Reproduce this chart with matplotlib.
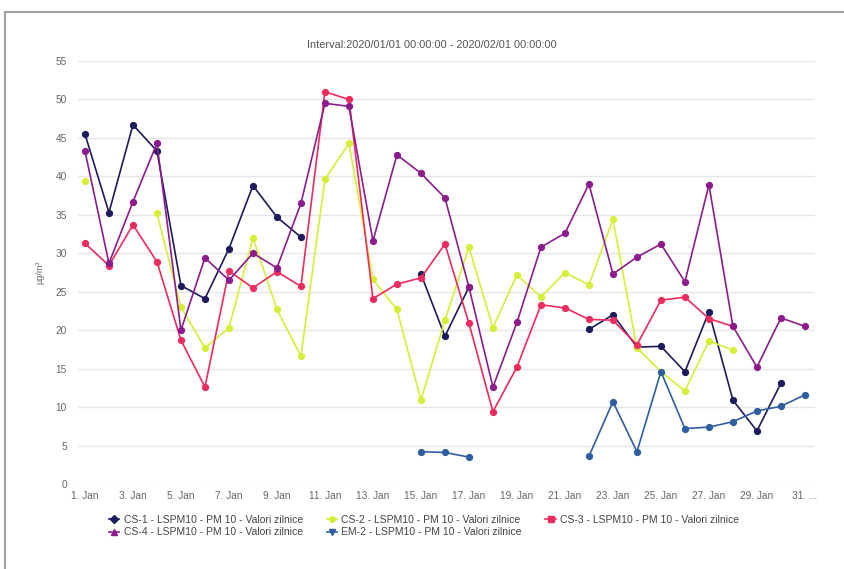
import numpy as np
import matplotlib
matplotlib.use('Agg')
import matplotlib.pyplot as plt
from matplotlib.lines import Line2D

plt.rcParams['font.family'] = ['Liberation Sans', 'DejaVu Sans']

nan = np.nan
days = list(range(1, 32))
tick_days = list(range(1, 32, 2))
tick_labels = [f'{d}. Jan' for d in tick_days[:-1]] + ['31. ...']

cs1 = [45.5, 35.3, 46.7, 43.3, 25.8, 24.1, 30.6, 38.8, 34.7, 32.1,
       nan, nan, nan, nan, 27.3, 19.2, 25.6, nan, nan, nan,
       nan, 20.1, 22.0, 17.8, 17.9, 14.6, 22.4, 10.9, 6.9, 13.1, nan]
cs2 = [39.4, nan, nan, 35.2, 23.0, 17.7, 20.3, 32.0, 22.7, 16.6,
       39.6, 44.3, 26.6, 22.7, 10.9, 21.3, 30.8, 20.3, 27.2, 24.3,
       27.5, 25.9, 34.4, 17.7, 14.6, 12.1, 18.6, 17.4, nan, nan, nan]
cs3 = [31.3, 28.4, 33.7, 28.9, 18.7, 12.6, 27.7, 25.5, 27.6, 25.7,
       51.0, 50.0, 24.1, 26.0, 26.8, 31.2, 20.9, 9.4, 15.2, 23.3,
       22.9, 21.4, 21.3, 18.1, 23.9, 24.3, 21.5, 20.5, nan, nan, nan]
cs4 = [43.3, 28.7, 36.7, 44.3, 20.0, 29.4, 26.5, 30.0, 28.1, 36.5,
       49.5, 49.1, 31.6, 42.8, 40.4, 37.2, 25.6, 12.6, 21.0, 30.8,
       32.6, 39.0, 27.3, 29.5, 31.2, 26.3, 38.9, 20.5, 15.2, 21.6, 20.5]
em2 = [nan, nan, nan, nan, nan, nan, nan, nan, nan, nan,
       nan, nan, nan, nan, 4.2, 4.1, 3.5, nan, nan, nan,
       nan, 3.6, 10.7, 4.2, 14.6, 7.2, 7.4, 8.1, 9.5, 10.1, 11.6]

names = ['CS-1 - LSPM10 - PM 10 - Valori zilnice',
         'CS-2 - LSPM10 - PM 10 - Valori zilnice',
         'CS-3 - LSPM10 - PM 10 - Valori zilnice',
         'CS-4 - LSPM10 - PM 10 - Valori zilnice',
         'EM-2 - LSPM10 - PM 10 - Valori zilnice']
colors = ['#1c1c5c', '#d6ee3a', '#ec2c5e', '#8c1c8c', '#2e5e9e']
legend_markers = ['D', 'o', 's', '^', 'v']

fig = plt.figure(figsize=(8.44, 5.69), dpi=100)
ax = fig.add_axes([78 / 844, 1 - 484 / 569, (815 - 78) / 844, (484 - 61) / 569])

for vals, c in zip([cs1, cs2, cs3, cs4, em2], colors):
    ax.plot(days, vals, color=c, lw=1.2, marker='o', ms=4.2, zorder=3)

ax.set_ylim(0, 55)
ax.set_xlim(0.71, 31.42)
ax.set_yticks(range(0, 56, 5))
ax.set_xticks(tick_days)
ax.set_xticklabels(tick_labels)
ax.grid(axis='y', color='#e6e6e6', lw=1)
ax.set_axisbelow(True)
for s in ax.spines.values():
    s.set_visible(False)
ax.tick_params(length=0, labelsize=7.3, colors='#666666')
ax.tick_params(axis='y', pad=8)
ax.tick_params(axis='x', pad=5)
ax.set_ylabel('µg/m³', fontsize=6.5, color='#666666', labelpad=8)

fig.text(432 / 844, 1 - 45 / 569, 'Interval:2020/01/01 00:00:00 - 2020/02/01 00:00:00',
         ha='center', va='center', fontsize=7.9, color='#555555')

# frame around the chart
fig.add_artist(Line2D([5 / 844, 5 / 844], [0, 1 - 12 / 569], transform=fig.transFigure,
                      color='#a0a0a0', lw=1.5))
fig.add_artist(Line2D([5 / 844, 1], [1 - 12 / 569, 1 - 12 / 569], transform=fig.transFigure,
                      color='#a0a0a0', lw=1.5))

handles = [Line2D([], [], color=c, lw=1.2, marker=m, ms=4) for c, m in zip(colors, legend_markers)]
order = [0, 3, 1, 4, 2]
fig.legend([handles[i] for i in order], [names[i] for i in order], ncol=3,
           loc='center', bbox_to_anchor=(424 / 844, 1 - 526 / 569), frameon=False,
           fontsize=7.45, labelcolor='#444444', handlelength=1.0, handletextpad=0.4,
           columnspacing=2.3, labelspacing=0.25)

fig.savefig('out.png', dpi=100)
